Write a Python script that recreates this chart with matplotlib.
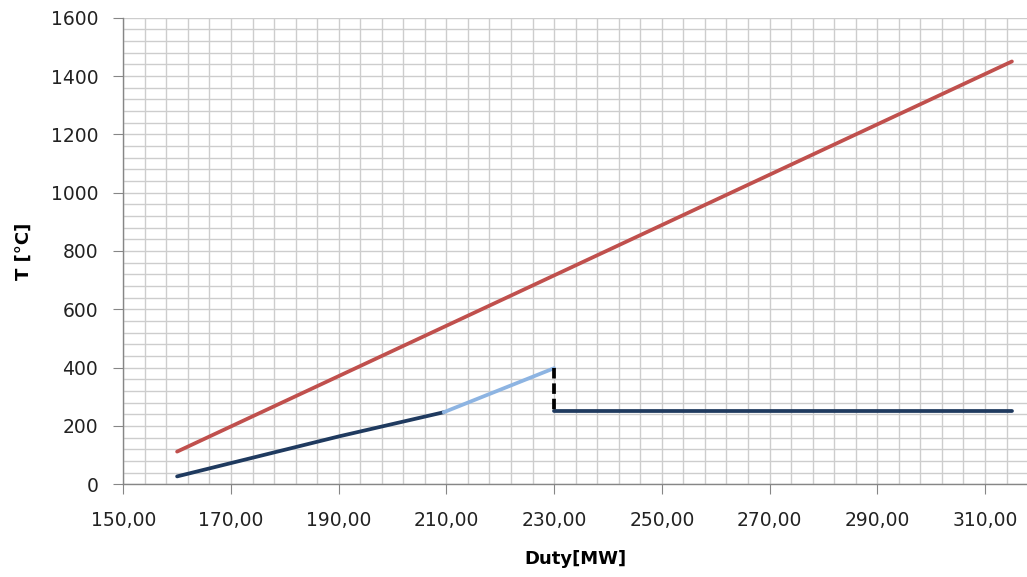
import numpy as np
import matplotlib.pyplot as plt
from matplotlib.ticker import FixedLocator, MultipleLocator, FuncFormatter

# ---- data
hot_duty = [160, 315]
hot_T = [112, 1450]

cold1_duty = [160, 190, 209.5]
cold1_T = [27, 164, 247]

cold2_duty = [209.5, 230]
cold2_T = [247, 398]

jump_duty = [230, 230]
jump_T = [398, 251]

cold3_duty = [230, 315]
cold3_T = [251, 251]

xticks = [150, 170, 190, 210, 230, 250, 270, 290, 310]

# ---- plot
fig = plt.figure(figsize=(10.27, 5.77), dpi=100)
ax = fig.add_axes([0.12, 0.1607, 0.88, 0.8086])

ax.plot(hot_duty, hot_T, color='#C0504D', lw=2.7, solid_capstyle='round')
ax.plot(cold1_duty, cold1_T, color='#1F3A5F', lw=2.7, solid_capstyle='round')
ax.plot(cold2_duty, cold2_T, color='#8DB4E2', lw=2.7, solid_capstyle='round')
ax.plot(cold3_duty, cold3_T, color='#1F3A5F', lw=2.7, solid_capstyle='round')
ax.plot(jump_duty, jump_T, color='black', lw=2.7, dashes=(2.8, 1.3))

ax.set_xlim(150, 317.8)
ax.set_ylim(0, 1600)
ax.xaxis.set_major_locator(FixedLocator(xticks))
ax.xaxis.set_minor_locator(FixedLocator(np.arange(150, 318, 4)))
ax.yaxis.set_major_locator(MultipleLocator(200))
ax.yaxis.set_minor_locator(MultipleLocator(40))
ax.xaxis.set_major_formatter(FuncFormatter(lambda v, p: ('%.2f' % v).replace('.', ',')))

ax.grid(True, which='both', color='#CDCDCD', lw=1.0)
ax.set_axisbelow(True)
for s in ['top', 'right']:
    ax.spines[s].set_visible(False)
for s in ['left', 'bottom']:
    ax.spines[s].set_color('#868686')
    ax.spines[s].set_linewidth(1.0)

ax.tick_params(which='major', length=7, color='#868686', labelsize=13.5, labelcolor='#222222')
ax.tick_params(axis='x', which='major', pad=12)
ax.tick_params(axis='y', which='major', pad=11)
ax.tick_params(which='minor', length=0)

ax.set_xlabel('Duty[MW]', fontsize=13, fontweight='bold', labelpad=15)
ax.set_ylabel('T [°C]', fontsize=13, fontweight='bold', labelpad=13)

fig.savefig('out.png', dpi=100)
